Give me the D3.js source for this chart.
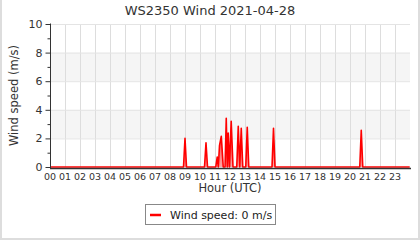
<!DOCTYPE html>
<html>
<head>
<meta charset="utf-8">
<script src="https://cdn.jsdelivr.net/npm/d3@7"></script>
<style>
  body { margin: 0; background: #fff; }
  svg { display: block; font-family: "DejaVu Sans", sans-serif; }
</style>
</head>
<body>
<svg id="chart" width="420" height="240"></svg>
<script>

var title = "WS2350 Wind 2021-04-28"
var hour_labels = d3.range(24).map(function(h){ return (h < 10 ? "0" : "") + h })
var y_ticks = [0, 2, 4, 6, 8, 10]
var bands = [[2, 4], [6, 8]]

// readings (hour of day, m/s)
var hours = [0, 8.9, 9.0, 9.1, 10.3, 10.4, 10.5, 11.05, 11.15, 11.22, 11.3, 11.42, 11.55,
  11.67, 11.75, 11.82, 11.88, 11.96, 12.08, 12.2, 12.45, 12.55, 12.65, 12.75, 12.85,
  13.05, 13.15, 13.25, 14.8, 14.9, 15.0, 20.65, 20.75, 20.85, 23.98]
var speeds = [0, 0, 2.0, 0, 0, 1.7, 0, 0, 0.7, 0, 1.5, 2.15, 0,
  0, 3.4, 0, 2.38, 0, 3.2, 0, 0, 2.85, 0, 2.7, 0,
  0, 2.78, 0, 0, 2.7, 0, 0, 2.57, 0, 0]

var svg = d3.select("#chart")
var W = 420, H = 240
var plot_left = 50, plot_right = 410, plot_top = 24, plot_bottom = 167

var x = d3.scaleLinear().domain([0, 24]).range([plot_left, plot_right])
var y = d3.scaleLinear().domain([0, 10]).range([plot_bottom, plot_top])

// outer frame
svg.append("path")
  .attr("fill", "none")
  .attr("stroke", "#ddd")
  .attr("stroke-width", 2)
  .attr("d", "M1,0 V239 H419 V0")

// background bands
svg.append("g").selectAll("rect").data(bands).enter().append("rect")
  .attr("x", plot_left)
  .attr("width", plot_right - plot_left)
  .attr("y", function(d){ return y(d[1]) })
  .attr("height", function(d){ return y(d[0]) - y(d[1]) })
  .attr("fill", "#f5f5f5")

// grid
svg.append("g").selectAll("line").data(d3.range(1, 24)).enter().append("line")
  .attr("x1", function(d){ return x(d) + 0.5 })
  .attr("x2", function(d){ return x(d) + 0.5 })
  .attr("y1", plot_top)
  .attr("y2", plot_bottom)
  .attr("stroke", "#ddd")

svg.append("g").selectAll("line").data(y_ticks.slice(1)).enter().append("line")
  .attr("x1", plot_left)
  .attr("x2", plot_right)
  .attr("y1", function(d){ return y(d) + 0.5 })
  .attr("y2", function(d){ return y(d) + 0.5 })
  .attr("stroke", "#e4e4e4")

// wind trace
var pts = hours.map(function(h, i){ return [h, speeds[i]] })

var grad = svg.append("defs").append("linearGradient")
  .attr("id", "windfill")
  .attr("x1", 0).attr("y1", 0).attr("x2", 0).attr("y2", 1)
grad.append("stop").attr("offset", "0%").attr("stop-color", "#ff0000").attr("stop-opacity", 0.95)
grad.append("stop").attr("offset", "100%").attr("stop-color", "#ff0000").attr("stop-opacity", 0.35)

svg.append("path")
  .datum(pts)
  .attr("fill", "url(#windfill)")
  .attr("d", d3.area()
    .x(function(d){ return x(d[0]) })
    .y0(y(0))
    .y1(function(d){ return y(d[1]) }))

svg.append("path")
  .datum(pts)
  .attr("fill", "none")
  .attr("stroke", "#ff0000")
  .attr("stroke-width", 1.6)
  .attr("stroke-linejoin", "round")
  .attr("d", d3.line()
    .x(function(d){ return x(d[0]) })
    .y(function(d){ return y(d[1]) }))

// y axis
var yAxis = svg.append("g")
  .attr("transform", "translate(" + (plot_left + 0.5) + ",0)")
  .call(d3.axisLeft(y).tickValues(y_ticks).tickSize(5).tickPadding(3))
yAxis.select(".domain").attr("stroke", "#333").attr("d", "M0," + (plot_top - 0.5) + "V" + (plot_bottom + 1.5))
yAxis.selectAll(".tick line").attr("stroke", "#333")
yAxis.selectAll("text").attr("font-family", "DejaVu Sans").attr("font-size", 11).attr("fill", "#333")

svg.append("g").selectAll("line").data([1, 3, 5, 7, 9]).enter().append("line")
  .attr("x1", plot_left - 2.5)
  .attr("x2", plot_left + 0.5)
  .attr("y1", function(d){ return y(d) + 0.5 })
  .attr("y2", function(d){ return y(d) + 0.5 })
  .attr("stroke", "#333")

// x axis
svg.append("line")
  .attr("x1", plot_left)
  .attr("x2", plot_right + 1)
  .attr("y1", plot_bottom + 1.5)
  .attr("y2", plot_bottom + 1.5)
  .attr("stroke", "#333")
  .attr("stroke-width", 1.5)

svg.append("g").selectAll("text").data(hour_labels).enter().append("text")
  .attr("x", function(d, i){ return x(i) })
  .attr("y", 180)
  .attr("text-anchor", "middle")
  .attr("font-size", 9.5)
  .attr("fill", "#333")
  .text(function(d){ return d })

svg.append("text")
  .attr("x", (plot_left + plot_right) / 2)
  .attr("y", 192)
  .attr("text-anchor", "middle")
  .attr("font-size", 11.5)
  .attr("fill", "#333")
  .text("Hour (UTC)")

svg.append("text")
  .attr("transform", "translate(18," + ((plot_top + plot_bottom) / 2) + ") rotate(-90)")
  .attr("text-anchor", "middle")
  .attr("font-size", 11.5)
  .attr("fill", "#333")
  .text("Wind speed (m/s)")

svg.append("text")
  .attr("x", W / 2)
  .attr("y", 15)
  .attr("text-anchor", "middle")
  .attr("font-size", 13)
  .attr("fill", "#333")
  .text(title)

// legend
var legend = svg.append("g")
legend.append("rect")
  .attr("x", 145.5).attr("y", 204.5)
  .attr("width", 130).attr("height", 20)
  .attr("fill", "#fff")
  .attr("stroke", "#888")
legend.append("line")
  .attr("x1", 150).attr("x2", 161)
  .attr("y1", 215).attr("y2", 215)
  .attr("stroke", "#ff0000")
  .attr("stroke-width", 2.5)
legend.append("text")
  .attr("x", 170).attr("y", 218.5)
  .attr("font-size", 11)
  .attr("fill", "#222")
  .text("Wind speed: " + speeds[speeds.length - 1] + " m/s")

</script>
</body>
</html>
